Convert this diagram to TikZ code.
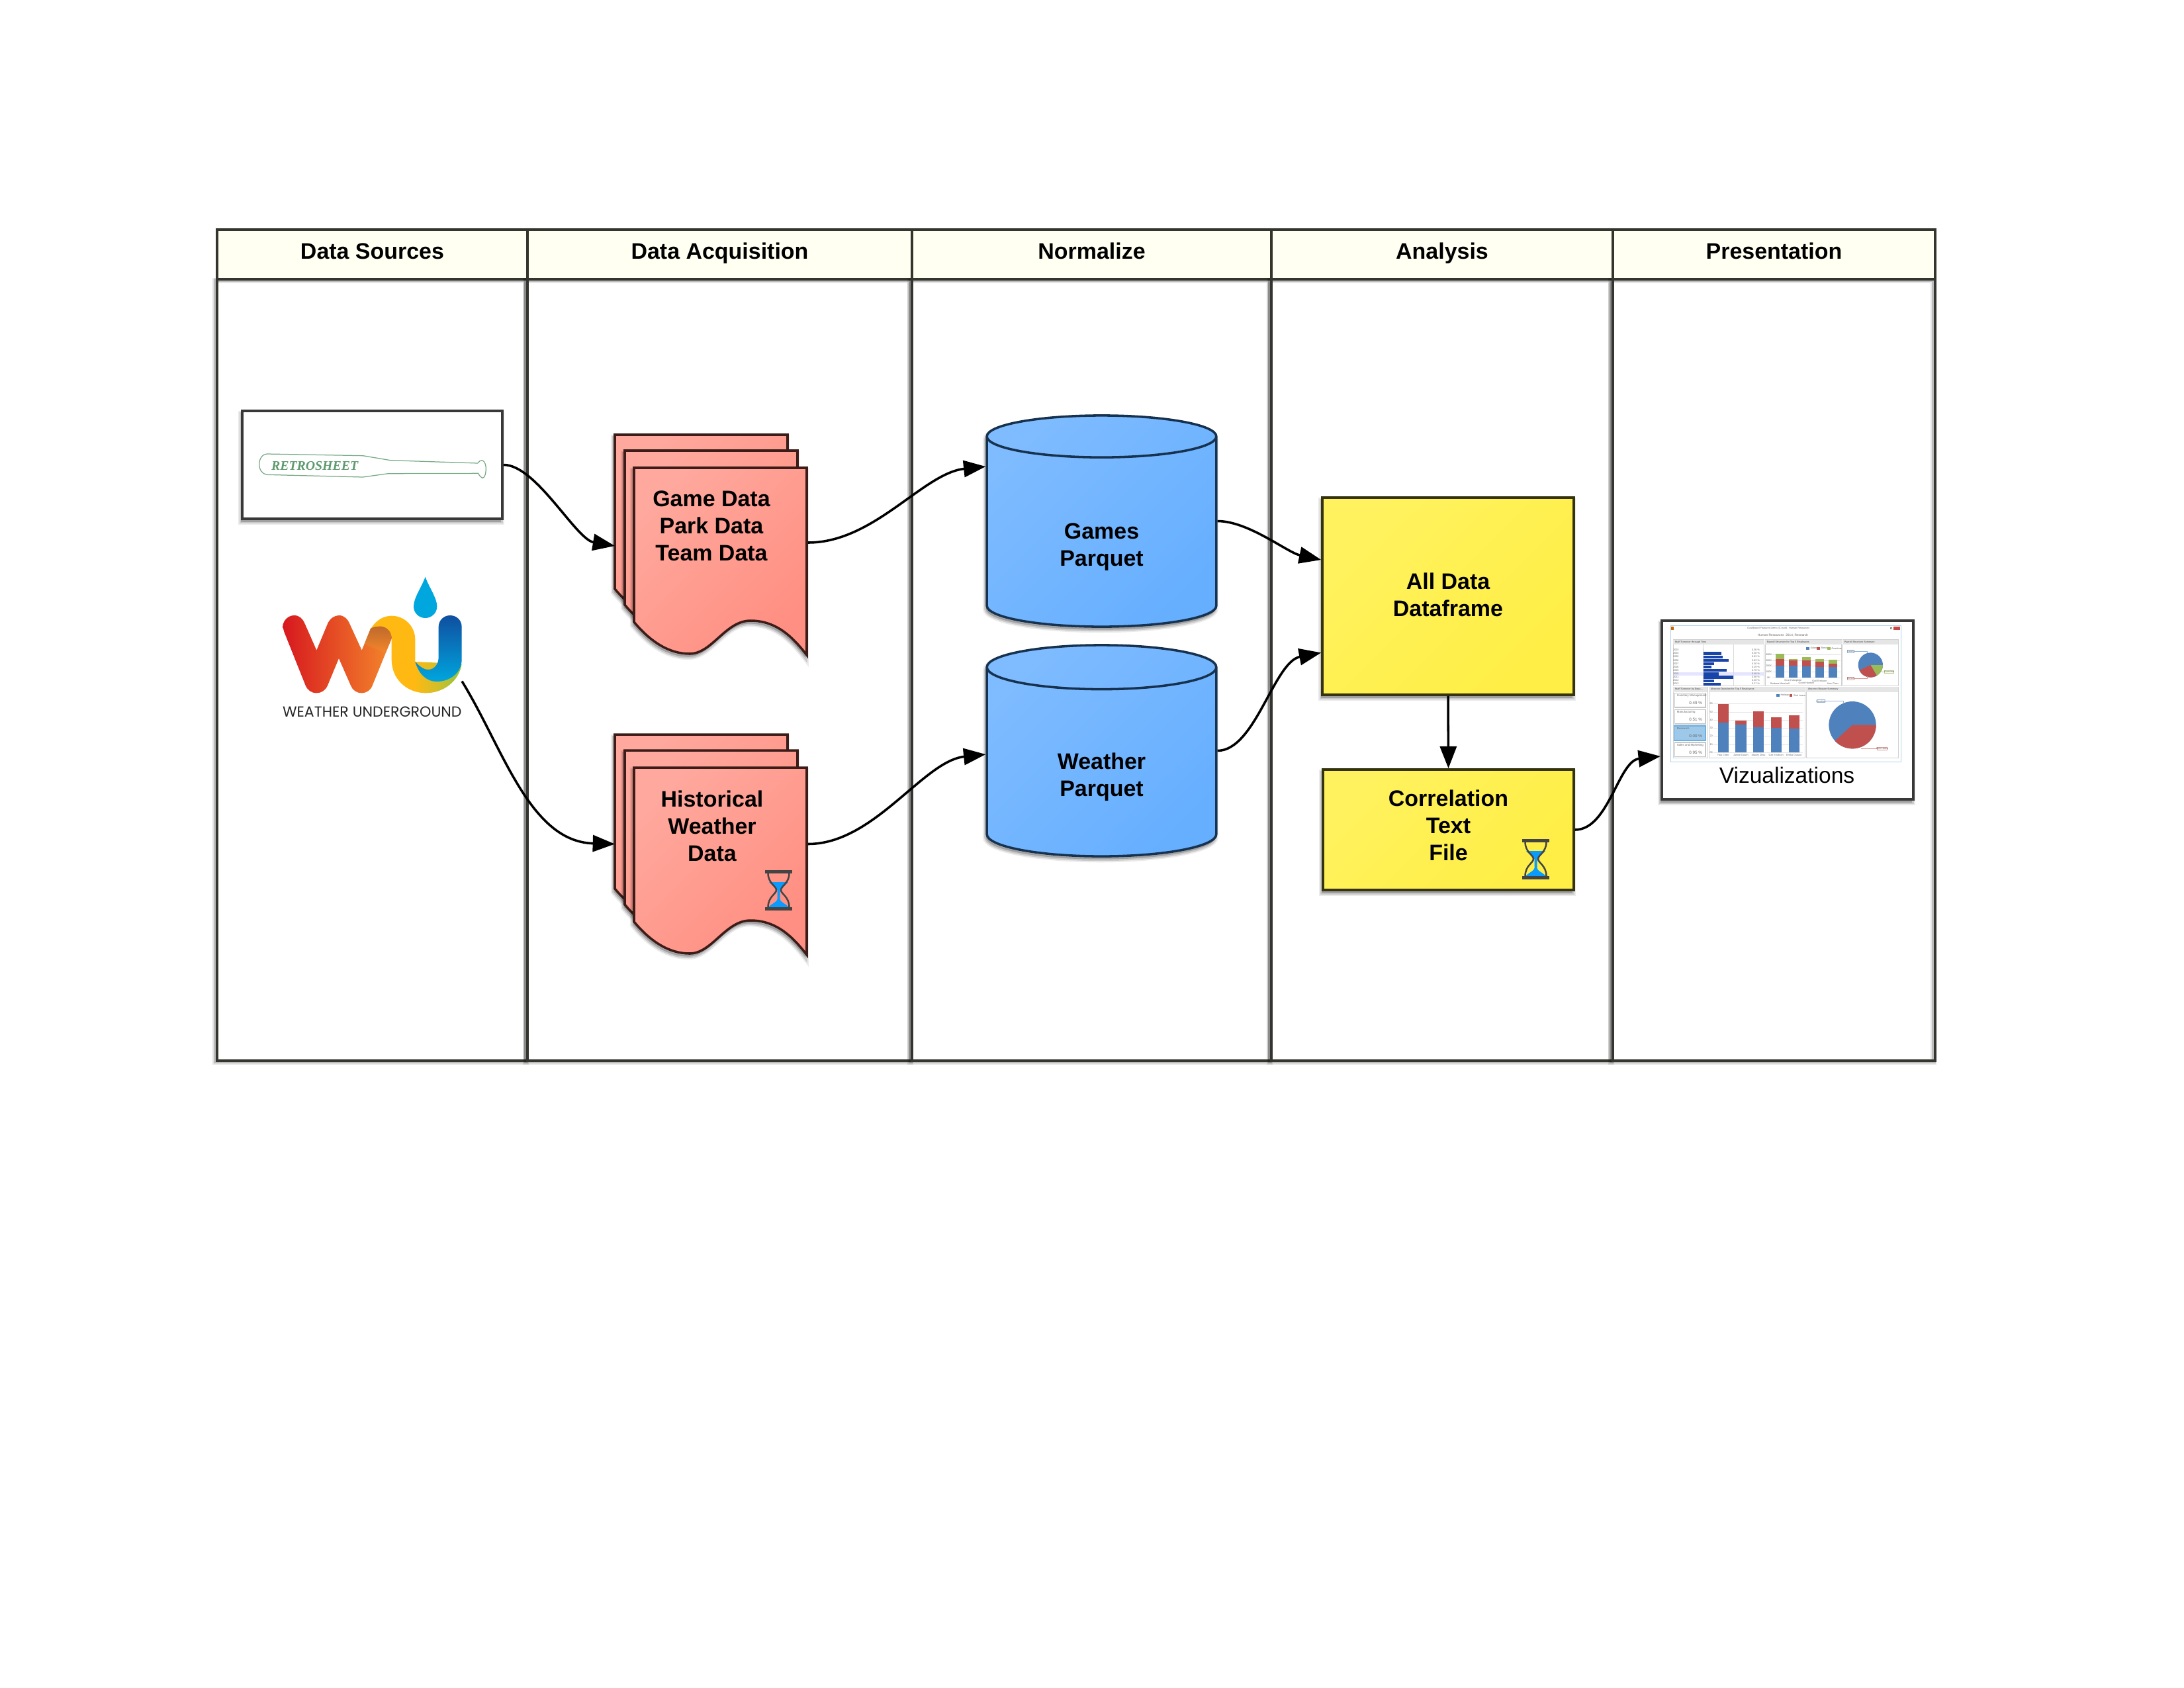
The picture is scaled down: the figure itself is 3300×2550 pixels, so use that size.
\documentclass[tikz,border=0pt]{standalone}
\usepackage{fontspec}
\setmainfont{Liberation Sans}
\newfontfamily\retrofont{Liberation Serif}
\newfontfamily\wufont{Poppins}
\usetikzlibrary{arrows.meta,fit,shapes.geometric}

\definecolor{framecol}{HTML}{35352F}
\definecolor{headcol}{HTML}{FFFFF2}
\definecolor{docedge}{HTML}{3B1C18}
\definecolor{docfrom}{HTML}{FFA89D}
\definecolor{docto}{HTML}{FF8F82}
\definecolor{cyledge}{HTML}{17324F}
\definecolor{cylfrom}{HTML}{7EBBFF}
\definecolor{cylto}{HTML}{66AFFF}
\definecolor{boxedge}{HTML}{35320F}
\definecolor{boxfrom}{HTML}{FFF25E}
\definecolor{boxto}{HTML}{FFEE45}
\definecolor{batgreen}{HTML}{5E9A6E}
\definecolor{wuyellow}{HTML}{FFB912}
\definecolor{wulime}{HTML}{D2BE2A}
\definecolor{wugreen}{HTML}{8CC63F}
\definecolor{wured}{HTML}{D7191F}
\definecolor{wumid}{HTML}{E25A22}
\definecolor{wuorange}{HTML}{F4862B}
\definecolor{wubrown}{HTML}{BE6A2C}
\definecolor{wudark}{HTML}{0F4FA0}
\definecolor{wusky}{HTML}{00A6DE}
\definecolor{sandblue}{HTML}{0A9BFF}
\definecolor{glassgray}{HTML}{444444}
\definecolor{barblue}{HTML}{4F81BD}
\definecolor{barred}{HTML}{C0504D}
\definecolor{bargreen}{HTML}{9BBB59}
\definecolor{tableblue}{HTML}{1A45A8}
\definecolor{winedge}{HTML}{B0D0E8}
\definecolor{cardfill}{HTML}{9DC8EA}
\definecolor{cardedge}{HTML}{6CB0E0}
\pgfdeclarehorizontalshading{wuband}{100bp}{color(0bp)=(wuyellow); color(49bp)=(wuyellow);
  color(62bp)=(wulime); color(75bp)=(wugreen); color(100bp)=(wugreen)}

\tikzset{
  softshadow/.style={
    preaction={draw=black,fill=black,opacity=.08,line width=2.2pt,transform canvas={xshift=-.4pt,yshift=-1.1pt}},
    preaction={draw=black,fill=black,opacity=.14,line width=1.2pt,transform canvas={xshift=-.4pt,yshift=-1.1pt}}},
  lineshadow/.style={
    preaction={draw=black,opacity=.10,line width=2pt,transform canvas={xshift=-.6pt,yshift=-.4pt}},
    preaction={draw=black,opacity=.18,line width=1.3pt,transform canvas={xshift=-.5pt,yshift=-.3pt}}},
  label font/.style={font=\fontsize{8.15}{9.84}\selectfont\bfseries,align=center,text=black},
  headcell/.style={draw=framecol,fill=headcol,line width=1.05pt,inner sep=0pt,minimum height=18pt,
    font=\fontsize{8.15}{9.84}\selectfont\bfseries,text height=6pt,text depth=2.5pt},
  bodycell/.style={draw=framecol,line width=1.05pt,inner sep=0pt,lineshadow},
  framebox/.style={draw=black!78,fill=white,line width=1pt,inner sep=0pt,softshadow},
  stackbox/.style={inner sep=0pt,outer sep=0pt},
  sheet/.style={draw=docedge,line width=.85pt,top color=docfrom,bottom color=docto,shading angle=45,softshadow},
  dbase/.style={shape=cylinder,shape border rotate=90,aspect=.5,draw=cyledge,line width=.85pt,
    top color=cylfrom,bottom color=cylto,shading angle=45,minimum width=83.2pt,minimum height=76.6pt,
    inner sep=0pt,anchor=shape center,softshadow,label font},
  notebox/.style={draw=boxedge,line width=.85pt,top color=boxfrom,bottom color=boxto,shading angle=45,
    inner sep=0pt,softshadow,label font},
  flow/.style={-{Triangle[length=8pt,width=6pt]},line width=.85pt,black},
  tinytext/.style={font=\fontsize{.9}{1}\selectfont,text=black!60,inner sep=0pt},
  pics/docstack/.style={code={
    \foreach \dx/\dy in {0/0,15/24,29/50}
      \draw[sheet,shift={(\dx,\dy)}] (0,0) -- (261,0) -- (261,283)
        .. controls (238,253) and (213,231) .. (176,231)
        .. controls (138,231) and (118,281) .. (84,281)
        .. controls (53,281) and (25,263) .. (0,233) -- cycle;
  }},
  pics/hourglass/.style={code={
    \fill[sandblue] (6,18) -- (35,18) .. controls (30,24) and (23,26) .. (22.5,30) -- (22.5,44)
      .. controls (23,48) and (30,50) .. (36,56) -- (5,56)
      .. controls (11,50) and (18,48) .. (18.5,44) -- (18.5,30)
      .. controls (18,26) and (11,24) .. (6,18) -- cycle;
    \draw[glassgray,line width=.6pt] (4.5,4.5) .. controls (4.5,20) and (17,24) .. (17,30)
      .. controls (17,36) and (4.5,40) .. (4.5,56);
    \draw[glassgray,line width=.6pt] (36.5,4.5) .. controls (36.5,20) and (24,24) .. (24,30)
      .. controls (24,36) and (36.5,40) .. (36.5,56);
    \fill[glassgray] (0,0) rectangle (41,4.5);
    \fill[glassgray] (0,56) rectangle (41,61);
  }},
}

\begin{document}
\begin{tikzpicture}[x=.24pt,y=-.24pt]
\useasboundingbox (0,0) rectangle (3300,2550);
% swimlanes
\foreach \nm/\xa/\xb/\ttl in {src/328/797/Data Sources,acq/797/1378/Data Acquisition,
    norm/1378/1921/Normalize,ana/1921/2437/Analysis,pres/2437/2924/Presentation}{
  \node[bodycell,fit={(\xa,422) (\xb,1603)}] (\nm body) {};
  \node[headcell,minimum width={(\xb-\xa)*.24pt}] (\nm head) at ({(\xa+\xb)/2},384.5) {\ttl};
}
% retrosheet
\node[framebox,fit={(366,621) (759,784)}] (retro) {};
\begin{scope}[shift={(340,600)},x=.08pt,y=-.08pt]
\draw[batgreen!85,line width=.3pt] (190,258) -- (625,266) -- (750,287) -- (1145,300)
  .. controls (1150,292) and (1158,287) .. (1165,287) .. controls (1178,290) and (1183,310) .. (1183,325)
  .. controls (1183,345) and (1178,365) .. (1168,367) .. controls (1160,365) and (1152,355) .. (1148,346)
  -- (740,347) -- (625,363) -- (190,352) .. controls (170,350) and (155,330) .. (155,305)
  .. controls (155,280) and (170,258) .. (190,258) -- cycle;
\node[text=batgreen,font=\retrofont\fontsize{4.75}{5}\selectfont\bfseries\itshape,inner sep=0pt]
  (retroname) at (407,311) {RETROSHEET};
\end{scope}
% weather underground
\node[stackbox,fit={(427,872) (698,1083)}] (wulogo) {};
\begin{scope}[shift={(340,860)},x=.08pt,y=-.08pt]
\shade[shading=wuband] (660,272) .. controls (685,230) and (720,212) .. (755,212)
  .. controls (815,212) and (862,260) .. (862,320) -- (862,420) -- (1073,430)
  .. controls (1060,510) and (990,562) .. (910,562) .. controls (825,562) and (755,500) .. (755,410)
  -- (755,315) -- cycle;
\shade[left color=wured,middle color=wumid,right color=wuorange] (262,262)
  .. controls (262,232) and (288,210) .. (313,210) .. controls (338,210) and (352,225) .. (362,248)
  -- (415,368) -- (465,248) .. controls (475,225) and (495,210) .. (516,210)
  .. controls (540,210) and (555,225) .. (565,248) -- (620,368) -- (660,270)
  .. controls (670,262) and (690,260) .. (705,260) .. controls (735,262) and (755,285) .. (755,315)
  -- (668,528) .. controls (660,550) and (640,562) .. (620,562) .. controls (595,562) and (578,548) .. (570,528)
  -- (516,405) -- (465,528) .. controls (455,550) and (437,562) .. (415,562)
  .. controls (392,562) and (375,550) .. (365,528) -- (268,285) -- cycle;
\shade[top color=wubrown,bottom color=wuorange] (660,270) .. controls (670,262) and (690,260) .. (705,260)
  .. controls (735,262) and (755,285) .. (755,315) -- (728,380) -- (632,340) -- cycle;
\shade[top color=wudark,bottom color=wusky] (968,262) .. controls (968,232) and (992,210) .. (1020,210)
  .. controls (1050,210) and (1073,232) .. (1073,262) -- (1073,410)
  .. controls (1073,470) and (1020,510) .. (960,510) .. controls (915,510) and (880,480) .. (862,420)
  .. controls (885,445) and (905,456) .. (920,456) .. controls (950,456) and (968,430) .. (968,400) -- cycle;
\fill[wusky] (908,35) .. controls (890,85) and (855,130) .. (855,170)
  .. controls (855,200) and (880,222) .. (908,222) .. controls (935,222) and (961,200) .. (961,170)
  .. controls (961,130) and (925,85) .. (908,35) -- cycle;
\node[font=\wufont\fontsize{5.3}{6}\selectfont,text=black!85,inner sep=0pt] (wuname) at (667,647) {WEATHER UNDERGROUND};
\end{scope}
% document stacks
\pic at (929,657) {docstack};
\node[stackbox,fit={(929,655) (1221,995)}] (gamestack) {};
\node[label font] (gametext) at (1075,795) {Game Data\\Park Data\\Team Data};
\pic at (929,1110) {docstack};
\node[stackbox,fit={(929,1108) (1221,1443)}] (histstack) {};
\node[label font] (histtext) at (1076,1248) {Historical\\Weather\\Data};
\pic at (1156,1315) {hourglass};
% parquet stores
\node[dbase] (games) at (1664.5,787.5) {\rule{0pt}{16.6pt}Games\\Parquet};
\node[dbase] (weather) at (1664.5,1134.5) {\rule{0pt}{16.6pt}Weather\\Parquet};
% analysis
\node[notebox,minimum width=91.2pt,minimum height=71.5pt] (alldata) at (2188,901) {All Data\\Dataframe\rule[-1.3pt]{0pt}{0pt}};
\node[notebox,minimum width=91pt,minimum height=43.7pt] (corr) at (2188.5,1254) {Correlation\\Text\\File\rule[-3.1pt]{0pt}{0pt}};
\pic at (2300,1268) {hourglass};
% presentation
\node[framebox,fit={(2511,938) (2891,1208)}] (viz) {};
\begin{scope}[shift={(2500,920)},x=.08pt,y=-.08pt]
\draw[winedge,fill=white,line width=.25pt] (72,76) rectangle (1118,694);
\fill[orange!80!black] (75,82) rectangle (88,95);
\fill[barred!90!red] (1083,82) rectangle (1113,95);
\draw[black!45,line width=.15pt] (1068,84) rectangle (1076,92);
\node[tinytext] (wintitle) at (562,88) {Dashboard Features Demo (C) sold - Human Resources};
\node[tinytext,font=\fontsize{1.15}{1.3}\selectfont] (subtitle) at (582,120) {Human Resources\ \ 2014, Research};
\foreach \i/\xa/\ya/\xb/\yb/\ttl in {1/85/140/497/350/Staff Turnover through Time,
    2/502/140/848/350/Payroll Structure for Top 5 Employees,
    3/853/140/1105/350/Payroll Structure Summary,
    4/85/355/241/677/Staff Turnover by Depa\ldots,
    5/247/355/682/677/Absence Duration for Top 5 Employees,
    6/688/355/1105/677/Absence Reason Summary}{
  \draw[black!18,line width=.2pt] (\xa,\ya) rectangle (\xb,\yb);
  \fill[black!10] (\xa,\ya) rectangle (\xb,\ya+22);
  \node[tinytext,anchor=west,font=\fontsize{.85}{1}\selectfont\bfseries] (panel\i) at (\xa+5,\ya+11) {\ttl};
}
% turnover table
\fill[blue!10] (86,287) rectangle (496,303);
\draw[black!15,line width=.15pt] (220,162) -- (220,348) (358,162) -- (358,348);
\foreach \n/\yr/\xb/\pct in {0/2003/222/0.00,1/2004/302/0.38,2/2005/308/0.63,3/2006/336/0.83,4/2007/271/0.30,
    5/2008/258/0.29,6/2009/327/0.76,7/2010/290/0.48,8/2011/356/0.98,9/2012/270/0.28,10/2013/301/0.37}{
  \fill[tableblue] (222,{181+15.4*\n}) rectangle (\xb,{194+15.4*\n});
  \node[tinytext] (year\n) at (97,{187+15.4*\n}) {\yr};
  \node[tinytext] (pct\n) at (459,{187+15.4*\n}) {\pct\ \%};
}
% payroll bars
\draw[black!12,line width=.15pt] (535,208) -- (842,208) (535,235) -- (842,235) (535,260) -- (842,260) (535,287) -- (842,287) (535,313) -- (842,313);
\foreach \n/\xa/\b/\r/\g in {1/550/258/228/205,2/610/259/234/228,3/670/262/234/219,4/730/263/239/229,5/790/264/250/232}{
  \fill[barblue] (\xa,313) rectangle (\xa+37,\b);
  \fill[barred] (\xa,\b) rectangle (\xa+37,\r);
  \fill[bargreen] (\xa,\r) rectangle (\xa+37,\g);
}
\foreach \n/\xa/\cc/\ttl in {1/687/barblue/Salary,2/735/barred/Bonus,3/783/bargreen/Overtime}{
  \fill[\cc] (\xa,173) rectangle (\xa+14,185);
  \node[tinytext,anchor=west] (paykey\n) at (\xa+17,179) {\ttl};
}
\foreach \n/\yy/\ttl in {1/208/400K,2/235/300K,3/260/200K,4/287/100K,5/313/0K}
  \node[tinytext] (payaxis\n) at (518,\yy) {\ttl};
\foreach \n/\xx/\yy/\ttl in {1/568/338/Barbara Marshall,2/628/326/Grant Macphee,3/688/338/Grant Hanson,4/748/326/Gail Erickson,5/808/338/Hao Chen}
  \node[tinytext] (payname\n) at (\xx,\yy) {\ttl};
% payroll pie
\fill[barblue] (979,255) circle [radius=56];
\fill[bargreen] (979,255) -- (1035,255) arc [start angle=0,end angle=60,radius=56] -- cycle;
\fill[barred] (979,255) -- (1007,303.5) arc [start angle=60,end angle=155,radius=56] -- cycle;
\draw[barblue!60,line width=.15pt] (875,188) rectangle (905,199) (905,193) -- (965,193) -- (965,200);
\draw[barred!60,line width=.15pt] (873,311) rectangle (905,323) (905,317) -- (965,317) -- (965,305);
\draw[bargreen!70,line width=.15pt] (1042,280) rectangle (1085,291) (1042,285) -- (1030,285);
\node[tinytext] (paypie1) at (890,193.5) {Salary};
\node[tinytext] (paypie2) at (889,317) {Bonus};
\node[tinytext] (paypie3) at (1063,285.5) {Overtime};
% department cards
\foreach \n/\ya/\ttl/\pct in {1/382/Inventory Management/0.49,2/457/Manufacturing/0.51,3/531/Research/0.00,4/606/Sales and Marketing/0.95}{
  \ifnum\n=3
    \draw[cardedge,fill=cardfill,line width=.3pt] (88,\ya) rectangle (231,\ya+66);
  \else
    \draw[black!22,line width=.3pt] (91,\ya) rectangle (231,\ya+65);
  \fi
  \node[tinytext,anchor=west,font=\fontsize{1.05}{1.2}\selectfont] (dept\n) at (99,\ya+12) {\ttl};
  \node[tinytext,anchor=east,font=\fontsize{1.5}{1.7}\selectfont] (deptval\n) at (218,\ya+46) {\pct\ \%};
}
% absence bars
\foreach \n/\yy in {6/431,5/468,4/505,3/541,2/578,1/615,0/652}{
  \draw[black!10,line width=.15pt] (268,\yy) -- (672,\yy);
  \node[tinytext] (absaxis\n) at (257,\yy) {\n0};
}
\foreach \n/\xa/\b/\r/\ttl in {1/287/516/432/Hao Chen,2/367/524/507/Janice Galvin,3/447/536/465/Stacey Zhou,4/527/539/493/Gail Erickson,5/608/543/483/Emilia Crause}{
  \fill[barblue] (\xa,652) rectangle (\xa+49,\b);
  \fill[barred] (\xa,\b) rectangle (\xa+49,\r);
  \node[tinytext] (absname\n) at (\xa+24,664) {\ttl};
}
\fill[barblue] (552,387) rectangle (566,399);
\fill[barred] (611,387) rectangle (625,399);
\node[tinytext,anchor=west] (abskey1) at (569,393) {Holiday};
\node[tinytext,anchor=west] (abskey2) at (628,393) {Sick Leave};
% absence pie
\fill[barblue] (897,527) circle [radius=107];
\fill[barred] (897,527) -- (1004,527) arc [start angle=0,end angle=138,radius=107] -- cycle;
\draw[barblue!60,line width=.15pt] (735,413) rectangle (773,425) (773,419) -- (857,419) -- (857,425);
\draw[barred!60,line width=.15pt] (1010,628) rectangle (1055,640) (1010,634) -- (935,634);
\node[tinytext] (abspie1) at (754,419) {Vacation};
\node[tinytext] (abspie2) at (1032,634) {Sick Leave};
\end{scope}
\node[font=\fontsize{8.05}{9.7}\selectfont,anchor=base,inner sep=0pt] (viztext) at (2700,1183) {Vizualizations};
% connectors
\draw[flow] (retro.east) .. controls +(49,0) and (870,815) .. (gamestack.west);
\draw[flow] (wulogo.-21.5) .. controls (760,1130) and (800,1272) .. (histstack.west);
\draw[flow] ([yshift=1.2pt]gamestack.east) .. controls +(100,0) and (1395,715) .. (games.west |- 0,705);
\draw[flow] (histstack.east) .. controls +(100,0) and (1395,1150) .. (weather.west |- 0,1140);
\draw[flow] (games.east |- games.shape center) .. controls +(47,0) and (1945,835) .. (alldata.164);
\draw[flow] (weather.east |- weather.shape center) .. controls +(57,0) and (1925,1000) .. (alldata.204.1);
\draw[flow] (alldata.south) -- (corr.north);
\draw[flow] (corr.east) .. controls +(51,0) and (2445,1150) .. (viz.200.5);
\end{tikzpicture}
\end{document}
